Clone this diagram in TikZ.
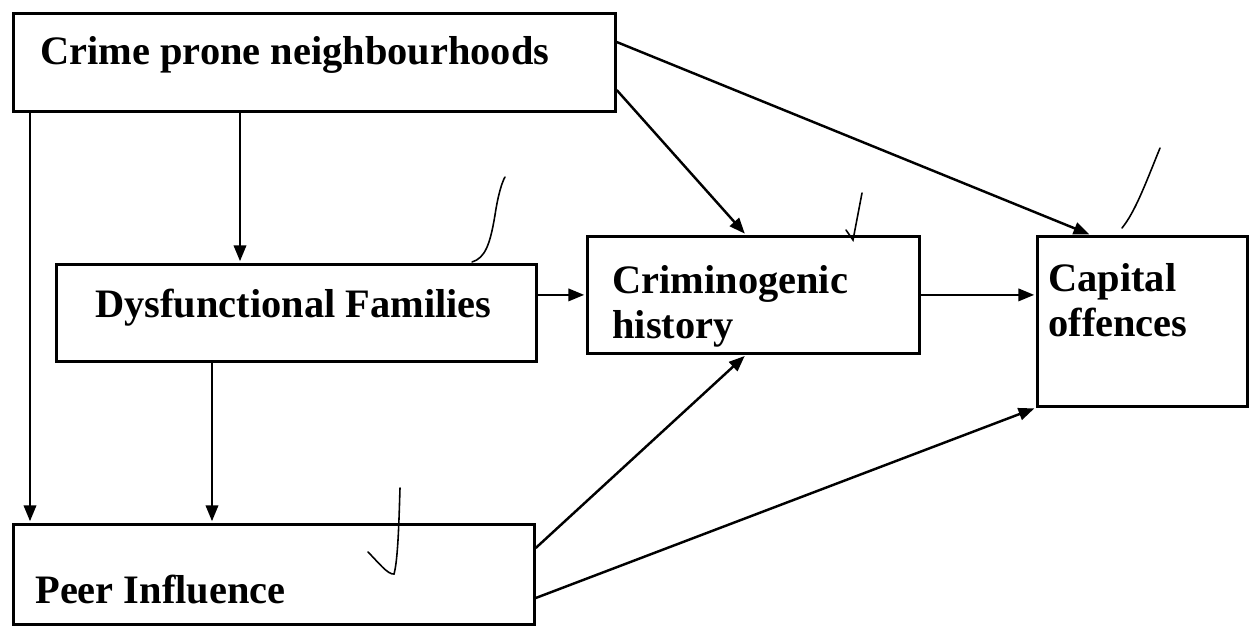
\documentclass[tikz,border=0pt]{standalone}
\usepackage{fontspec}
\setmainfont{Liberation Serif}
\usetikzlibrary{arrows.meta, positioning}

\begin{document}
\begin{tikzpicture}[
  x=0.02cm, y=-0.02cm,
  box/.style={rectangle, draw=black, line width=1.6pt, anchor=north west, inner sep=0pt},
  lbl/.style={font=\fontsize{23}{25.5}\selectfont\bfseries, align=left, anchor=north west, inner sep=0pt},
  arr/.style={-{Triangle[length=9pt, width=7pt]}, draw=black, line width=1.4pt, shorten >=1pt},
  tick/.style={draw=black, line width=0.9pt, line cap=round},
]
\useasboundingbox (0,0) rectangle (1250,626);

%% Boxes
\node[box, minimum width=12.04cm, minimum height=1.96cm] (cpn) at (12,12)   {};
\node[box, minimum width=9.6cm,   minimum height=1.94cm] (df)  at (55,263)  {};
\node[box, minimum width=6.64cm,  minimum height=2.34cm] (ch)  at (586,235) {};
\node[box, minimum width=4.2cm,   minimum height=3.4cm]  (co)  at (1036,235){};
\node[box, minimum width=10.42cm, minimum height=2.0cm]  (pi)  at (12,523)  {};

%% Texts
\node[lbl] (cpntxt) at ([shift={(28,24)}]cpn.north west) {Crime prone neighbourhoods};
\node[lbl] (dftxt)  at ([shift={(40,26)}]df.north west)  {Dysfunctional Families};
\node[lbl] (chtxt)  at ([shift={(26,30)}]ch.north west)  {Criminogenic\\history};
\node[lbl] (cotxt)  at ([shift={(12,28)}]co.north west)  {Capital\\offences};
\node[lbl] (pitxt)  at ([shift={(23,52)}]pi.north west)  {Peer Influence};

%% Vertical links
\draw[arr] ([shift={(18,0)}]cpn.south west)  -- ([shift={(18,0)}]cpn.south west |- pi.north);
\draw[arr] ([shift={(228,0)}]cpn.south west) -- ([shift={(228,0)}]cpn.south west |- df.north);
\draw[arr] ([shift={(157,0)}]df.south west)  -- ([shift={(157,0)}]df.south west |- pi.north);

%% Horizontal links
\draw[arr] (df.east |- ch.west) -- (ch.west);
\draw[arr] (ch.east) -- (ch.east -| co.west);

%% Diagonal links
\draw[arr] ([shift={(0,30)}]cpn.north east) -- ([shift={(55,0)}]co.north west);
\draw[arr] ([shift={(0,78)}]cpn.north east) -- ([shift={(160,0)}]ch.north west);
\draw[arr] ([shift={(0,25)}]pi.north east)  -- ([shift={(160,0)}]ch.south west);
\draw[arr] ([shift={(0,75)}]pi.north east)  -- (co.south west);

%% Check marks
\draw[tick] (472,262) .. controls (485,258) and (490,245) .. (495,215) .. controls (498,195) and (502,182) .. (505,177);
\draw[tick] (862,193) -- (853,240) -- (846,230);
\draw[tick] (1160,148) .. controls (1145,185) and (1135,212) .. (1122,228);
\draw[tick] (368,552) .. controls (378,562) and (388,575) .. (394,574) .. controls (398,560) and (399,520) .. (400,488);
\end{tikzpicture}
\end{document}
